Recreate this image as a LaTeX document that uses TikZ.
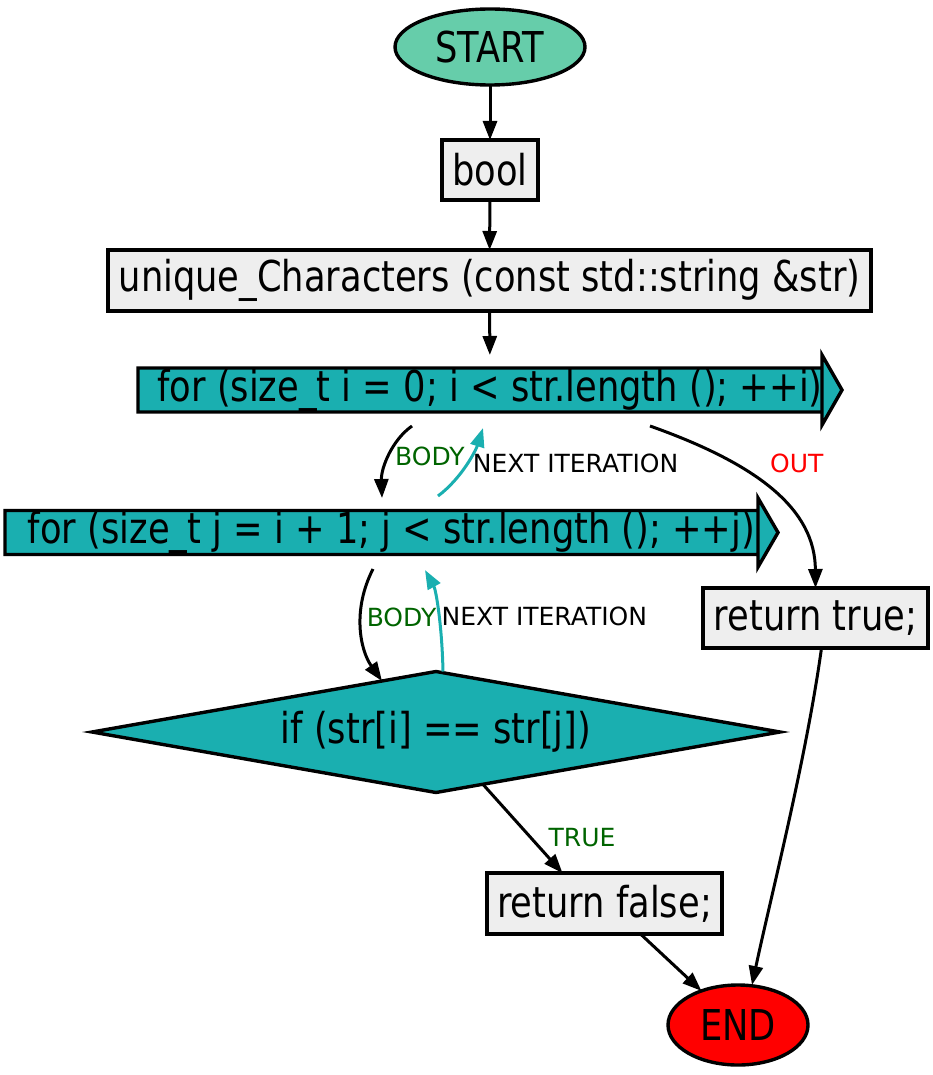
\documentclass[tikz,border=0pt]{standalone}
\usepackage{fontspec}
\setmainfont{DejaVu Sans}
\newfontfamily\mainf[FakeStretch=0.83]{DejaVu Sans}
\usetikzlibrary{shapes.geometric,arrows.meta}
\definecolor{boxgray}{HTML}{EEEEEE}
\definecolor{startgreen}{HTML}{66CDAA}
\definecolor{loopteal}{HTML}{1AAFB0}
\definecolor{bodygreen}{HTML}{006400}
\begin{document}
\begin{tikzpicture}[x=1pt,y=-1pt,
  every node/.style={inner sep=0pt,outer sep=0pt},
  txt/.style={font=\mainf\fontsize{42.5}{47}\selectfont},
  lbl/.style={font=\fontsize{25}{28}\selectfont},
  procbox/.style={txt,draw,line width=3.4pt,fill=boxgray,rectangle},
  termnode/.style={txt,draw,line width=3.4pt,ellipse},
  flow/.style={line width=3pt,-{Triangle[length=19pt,width=14pt]}},
  loopflow/.style={flow,draw=loopteal,-{Triangle[length=19pt,width=14pt,fill=loopteal]}},
  loopshape/.style={draw,line width=3.4pt,fill=loopteal,line join=miter}
]
\useasboundingbox (0,0) rectangle (933,1075);

\node[termnode,fill=startgreen,minimum width=190pt,minimum height=76pt] (start) at (490,47) {START};
\node[procbox,minimum width=96pt,minimum height=60pt] (bool) at (490,170) {bool};
\node[procbox,minimum width=763pt,minimum height=61pt] (uc) at (489.5,280.5) {unique\_Characters (const std::string \&str)};

% for i (cds shape)
\node[txt,minimum width=704pt,minimum height=70pt] (fori) at (490,390) {};
\draw[loopshape] ([yshift=-22pt]fori.west) -- ([xshift=-20pt,yshift=-22pt]fori.east) -- ([xshift=-20pt]fori.north east) -- (fori.east) -- ([xshift=-20pt]fori.south east) -- ([xshift=-20pt,yshift=22pt]fori.east) -- ([yshift=22pt]fori.west) -- cycle;
\node[txt] at (fori) {for (size\_t i = 0; i < str.length (); ++i)};

% for j
\node[txt,minimum width=773pt,minimum height=69pt] (forj) at (391.5,532.5) {};
\draw[loopshape] ([yshift=-22pt]forj.west) -- ([xshift=-20pt,yshift=-22pt]forj.east) -- ([xshift=-20pt]forj.north east) -- (forj.east) -- ([xshift=-20pt]forj.south east) -- ([xshift=-20pt,yshift=22pt]forj.east) -- ([yshift=22pt]forj.west) -- cycle;
\node[txt] at (forj) {for (size\_t j = i + 1; j < str.length (); ++j)};

\node[txt,diamond,draw,line width=3.4pt,fill=loopteal,aspect=5.7,minimum width=688pt,minimum height=121pt] (cond) at (436,732) {if (str[i] == str[j])};

\node[procbox,minimum width=225pt,minimum height=60pt] (rett) at (815.5,618) {return true;};
\node[procbox,minimum width=235pt,minimum height=61pt] (retf) at (604.5,903.5) {return false;};
\node[termnode,fill=red,minimum width=140pt,minimum height=80pt] (end) at (738,1025) {END};

% edges
\draw[flow] (start) -- (bool);
\draw[flow] (bool) -- (uc);
\draw[flow] (uc) -- (fori);

\draw[flow] ([xshift=-78pt,yshift=-1pt]fori.south) .. controls (392,440) and (381,468) .. ([xshift=-9.5pt]forj.north)
  node[lbl,text=bodygreen,pos=0.5,right=6pt] {BODY};
\draw[loopflow] ([xshift=46.5pt,yshift=2pt]forj.north) .. controls (462,478) and (476,450) .. ([xshift=-7pt,yshift=-3pt]fori.south)
  node[lbl,pos=0.5,right=6pt] {NEXT ITERATION};
\draw[flow] ([xshift=160pt,yshift=-1pt]fori.south) .. controls (760,465) and (815,510) .. (rett.north)
  node[lbl,text=red,pos=0.3,right=36pt] {OUT};

\draw[flow] ([xshift=-18.5pt,yshift=-2pt]forj.south) .. controls (352,610) and (360,650) .. (382,681)
  node[lbl,text=bodygreen,pos=0.4,right=6pt] {BODY};
\draw[loopflow] ([xshift=7pt]cond.north) .. controls (442,625) and (436,590) .. ([xshift=33.5pt,yshift=-3pt]forj.south)
  node[lbl,pos=0.45,right=3pt] {NEXT ITERATION};

\draw[flow] (cond) -- ([xshift=-42pt]retf.north) node[lbl,text=bodygreen,pos=0.6,right=18pt] {TRUE};
\draw[flow] ([xshift=36pt]retf.south) -- (end);
\draw[flow] ([xshift=6pt]rett.south) .. controls (806,760) and (770,900) .. ([xshift=14pt]end.north);
\end{tikzpicture}
\end{document}
